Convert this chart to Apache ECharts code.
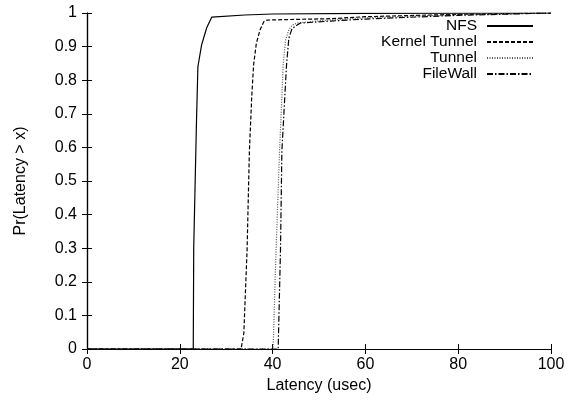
<!DOCTYPE html>
<html>
<head>
<meta charset="utf-8">
<script src="https://cdn.jsdelivr.net/npm/echarts@6/dist/echarts.min.js"></script>
<style>
  html, body { margin: 0; padding: 0; background: #fff; }
  #chart { width: 579px; height: 401px; }
</style>
</head>
<body>
<div id="chart"></div>
<script>
// values
const nfsLatency = [0, 22.9, 23.0, 23.6, 23.9, 24.7, 25.8, 26.9, 34, 40, 60, 100];
const nfsProb    = [0, 0, 0.3, 0.68, 0.84, 0.905, 0.956, 0.988, 0.994, 0.997, 0.999, 1];

const kernelLatency = [0, 33.2, 33.8, 34.5, 35.0, 35.5, 35.9, 36.5, 37.3, 38.1, 38.8, 45, 52.5, 60, 80, 100];
const kernelProb    = [0, 0, 0.047, 0.295, 0.59, 0.75, 0.845, 0.91, 0.95, 0.974, 0.979, 0.981, 0.983, 0.989, 0.996, 1];

const tunnelLatency = [0, 40.1, 40.75, 41.5, 42.3, 42.8, 43.5, 44.2, 45.3, 50, 60, 80, 100];
const tunnelProb    = [0, 0, 0.295, 0.59, 0.85, 0.92, 0.95, 0.964, 0.97, 0.977, 0.986, 0.995, 1];

const filewallLatency = [0, 41.2, 41.7, 42.0, 43.0, 43.5, 44.2, 45.3, 46.0, 52.5, 60, 80, 100];
const filewallProb    = [0, 0, 0.295, 0.59, 0.845, 0.925, 0.954, 0.964, 0.97, 0.976, 0.982, 0.993, 1];

const seriesNames = ['NFS', 'Kernel Tunnel', 'Tunnel', 'FileWall'];

function pairs(xs, ys) {
  return xs.map((x, i) => [x, ys[i]]);
}

const chart = echarts.init(document.getElementById('chart'));
const font = 'Liberation Sans, Arial, Helvetica, sans-serif';

const tickStyle = { show: true, inside: true, length: 5, lineStyle: { color: '#000', width: 1 } };
const lineAxis = { show: true, lineStyle: { color: '#000', width: 1.2 } };

function line(name, data, type, color) {
  return {
    name: name,
    type: 'line',
    data: data,
    symbol: 'none',
    showSymbol: false,
    animation: false,
    lineStyle: { color: color, width: 1.2, type: type },
    itemStyle: { color: color }
  };
}

chart.setOption({
  animation: false,
  textStyle: { fontFamily: font },
  grid: { left: 87, right: 28, top: 13, bottom: 52 },
  legend: {
    data: seriesNames,
    orient: 'vertical',
    align: 'right',
    right: 45,
    top: 18,
    padding: 0,
    itemWidth: 46,
    itemHeight: 10,
    itemGap: 0,
    itemStyle: { opacity: 0 },
    textStyle: { fontSize: 15.5, color: '#000', fontFamily: font, padding: [0, 5, 0, 0] }
  },
  xAxis: [
    {
      type: 'value', min: 0, max: 100, interval: 20,
      name: 'Latency (usec)', nameLocation: 'middle', nameGap: 29,
      nameTextStyle: { fontSize: 16, color: '#000', fontFamily: font },
      axisLine: lineAxis, axisTick: tickStyle,
      axisLabel: { color: '#000', fontSize: 16, margin: 8, fontFamily: font },
      splitLine: { show: false }
    },
    {
      type: 'value', min: 0, max: 100, interval: 20, position: 'top',
      axisLine: lineAxis, axisTick: tickStyle,
      axisLabel: { show: false }, splitLine: { show: false }
    }
  ],
  yAxis: [
    {
      type: 'value', min: 0, max: 1, interval: 0.1,
      name: 'Pr(Latency > x)', nameLocation: 'middle', nameGap: 58, nameRotate: 90,
      nameTextStyle: { fontSize: 16, color: '#000', fontFamily: font },
      axisLine: lineAxis, axisTick: tickStyle,
      axisLabel: {
        color: '#000', fontSize: 16, margin: 10, fontFamily: font,
        formatter: v => String(Math.round(v * 10) / 10)
      },
      splitLine: { show: false }
    },
    {
      type: 'value', min: 0, max: 1, interval: 0.1, position: 'right',
      axisLine: lineAxis, axisTick: tickStyle,
      axisLabel: { show: false }, splitLine: { show: false }
    }
  ],
  series: [
    line('NFS', pairs(nfsLatency, nfsProb), 'solid', '#000'),
    line('Kernel Tunnel', pairs(kernelLatency, kernelProb), [4, 2], '#000'),
    line('Tunnel', pairs(tunnelLatency, tunnelProb), [1, 1.5], '#555'),
    line('FileWall', pairs(filewallLatency, filewallProb), [6, 2, 1.5, 2], '#000')
  ]
});
</script>
</body>
</html>
